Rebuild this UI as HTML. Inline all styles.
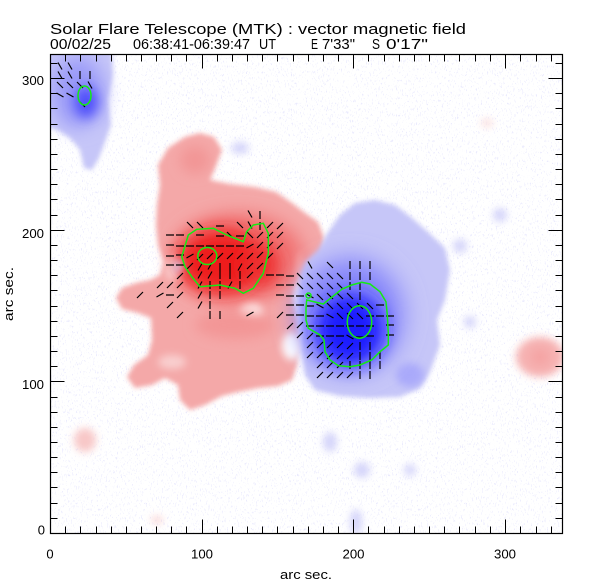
<!DOCTYPE html>
<html><head><meta charset="utf-8">
<style>
html,body{margin:0;padding:0;background:#fff;}
svg{display:block;}
text{font-family:"Liberation Sans",sans-serif;fill:#000;}
</style></head>
<body>
<svg width="612" height="585" viewBox="0 0 612 585" xmlns="http://www.w3.org/2000/svg">
<defs>
<clipPath id="pc"><rect x="51" y="55" width="511" height="478"/></clipPath>
<filter id="b2" x="-30%" y="-30%" width="160%" height="160%"><feGaussianBlur stdDeviation="2.5"/></filter>
<filter id="b4" x="-40%" y="-40%" width="180%" height="180%"><feGaussianBlur stdDeviation="4"/></filter>
<filter id="b6" x="-50%" y="-50%" width="200%" height="200%"><feGaussianBlur stdDeviation="6"/></filter>
<filter id="b9" x="-60%" y="-60%" width="220%" height="220%"><feGaussianBlur stdDeviation="9"/></filter>
<filter id="b12" x="-60%" y="-60%" width="220%" height="220%"><feGaussianBlur stdDeviation="12"/></filter>
<filter id="spk" x="50" y="54" width="512" height="480" filterUnits="userSpaceOnUse">
<feTurbulence type="fractalNoise" baseFrequency="0.8 0.35" numOctaves="2" seed="7" result="n"/>
<feColorMatrix in="n" type="matrix" values="0 0 0 0 0.78  0 0 0 0 0.78  0 0 0 0 0.98  10 0 0 0 -6.2"/>
</filter>
</defs>

<!-- Title -->
<text x="50" y="34" font-size="14.5" textLength="416" lengthAdjust="spacingAndGlyphs">Solar Flare Telescope (MTK) : vector magnetic field</text>
<text x="50" y="49" font-size="14.5" textLength="61" lengthAdjust="spacingAndGlyphs">00/02/25</text>
<text x="133" y="49" font-size="14.5" textLength="117" lengthAdjust="spacingAndGlyphs">06:38:41-06:39:47</text>
<text x="259" y="49" font-size="14.5" textLength="17" lengthAdjust="spacingAndGlyphs">UT</text>
<text x="311" y="49" font-size="14.5" textLength="7" lengthAdjust="spacingAndGlyphs">E</text>
<text x="322" y="49" font-size="14.5" textLength="33" lengthAdjust="spacingAndGlyphs">7'33"</text>
<text x="372" y="49" font-size="14.5" textLength="8" lengthAdjust="spacingAndGlyphs">S</text>
<text x="386" y="49" font-size="14.5" textLength="42" lengthAdjust="spacingAndGlyphs">0'17"</text>

<g clip-path="url(#pc)">
<rect x="50" y="54" width="512" height="480" fill="#fff"/>
<rect x="50" y="54" width="512" height="480" filter="url(#spk)" opacity="0.75"/>

<!-- RED pale -->
<g filter="url(#b2)" fill="rgb(244,168,168)">
<path d="M160,185 L158,165 L168,148 L185,137 L200,133 L214,137 L222,150 L216,165 L210,180 L230,184 L255,187 L276,192 L292,203 L305,213 L318,222 L324,238 L323,258 L313,270 L300,276 L294,285 L293,300 L297,320 L299,345 L297,365 L292,380 L278,386 L258,388 L238,392 L222,396 L205,405 L190,410 L180,400 L178,385 L165,378 L152,385 L135,388 L127,377 L134,365 L148,355 L152,340 L151,318 L138,313 L122,309 L116,298 L122,288 L136,283 L150,280 L160,275 L164,262 L158,245 L156,225 L157,205 Z"/>
</g>
<g filter="url(#b4)">
<ellipse cx="540" cy="357" rx="24" ry="20" fill="rgb(246,180,180)"/>
<ellipse cx="85" cy="440" rx="11" ry="12" fill="rgb(248,200,200)"/>
<ellipse cx="157" cy="520" rx="6" ry="4" fill="rgb(250,215,215)"/>
<ellipse cx="487" cy="123" rx="6" ry="4" fill="rgb(250,222,222)"/>
</g>
<!-- white carves -->
<g filter="url(#b4)" fill="#fff">
<ellipse cx="175" cy="268" rx="9" ry="13"/>
<ellipse cx="251" cy="312" rx="11" ry="11"/>
<ellipse cx="292" cy="346" rx="10" ry="14"/>
<ellipse cx="297" cy="265" rx="4" ry="13"/>
<ellipse cx="172" cy="362" rx="14" ry="7" opacity="0.45"/>
</g>
<!-- RED medium / core -->
<ellipse cx="195" cy="160" rx="15" ry="14" fill="rgb(242,150,150)" filter="url(#b6)"/>
<ellipse cx="235" cy="325" rx="40" ry="14" fill="rgb(243,150,150)" filter="url(#b6)"/>
<ellipse cx="540" cy="357" rx="10" ry="9" fill="rgb(244,160,160)" filter="url(#b6)"/>
<ellipse cx="238" cy="257" rx="66" ry="44" fill="rgb(241,115,115)" filter="url(#b9)"/>
<ellipse cx="222" cy="262" rx="44" ry="32" fill="rgb(238,30,30)" filter="url(#b9)"/>
<ellipse cx="262" cy="265" rx="16" ry="20" fill="rgb(238,45,45)" filter="url(#b9)"/>

<!-- BLUE pale -->
<g filter="url(#b2)" fill="rgb(198,198,248)">
<path d="M328,232 L340,215 L355,203 L375,200 L395,205 L412,218 L428,232 L445,248 L450,270 L445,300 L437,320 L440,345 L430,372 L420,388 L400,397 L370,398 L340,396 L315,390 L305,375 L302,350 L302,330 L300,300 L300,275 L305,262 L318,250 Z"/>
<path d="M45,50 L112,50 L113,75 L108,100 L111,125 L105,142 L99,158 L92,170 L84,168 L80,150 L70,138 L58,130 L45,126 Z"/>
</g>
<g filter="url(#b4)" fill="rgb(212,212,250)">
<ellipse cx="240" cy="148" rx="9" ry="6"/>
<ellipse cx="460" cy="246" rx="7" ry="7"/>
<ellipse cx="500" cy="215" rx="7" ry="7"/>
<ellipse cx="470" cy="322" rx="6" ry="6"/>
<ellipse cx="330" cy="442" rx="7" ry="10"/>
<ellipse cx="362" cy="470" rx="8" ry="8"/>
<ellipse cx="356" cy="522" rx="6" ry="13"/>
<ellipse cx="410" cy="470" rx="6" ry="6"/>
<ellipse cx="178" cy="266" rx="4" ry="6"/>
</g>
<ellipse cx="410" cy="375" rx="14" ry="12" fill="rgb(170,170,250)" filter="url(#b4)"/>
<ellipse cx="350" cy="315" rx="54" ry="57" fill="rgb(135,135,250)" filter="url(#b12)"/>
<ellipse cx="350" cy="330" rx="34" ry="36" fill="rgb(30,30,255)" filter="url(#b9)"/>
<ellipse cx="78" cy="92" rx="26" ry="36" fill="rgb(155,155,248)" filter="url(#b9)"/>
<ellipse cx="86" cy="102" rx="12" ry="16" fill="rgb(80,80,250)" filter="url(#b6)"/>

<!-- vectors -->
<path fill="none" stroke="#000" stroke-width="1.2" d="
M60 66m-2-3.5l4 7 M70 66m-2-3.5l4 7 M60 75m-2-3.5l4 7 M70 75m-2-3.5l4 7 M80 75m0-4v8 M90 75m0-4v8 M60 85m-3-3l6 6 M70 85m-3-3l6 6 M80 85m-3-3l6 6 M90 85m-2-3.5l4 7 M60 95m-3.5-2l7 4 M70 95m-3.5-2l7 4 M82 104m-3-3l6 6
M250 214m-2-3.5l4 7 M260 215m0-4v8
M190 225m-3-3l6 6 M200 225m-3-3l6 6 M220 226m-4 0h8 M240 225m-3-3l6 6 M250 225m-2-3.5l4 7 M260 226m0-4v8 M270 225m-3 3l6-6 M280 226m-3 3l6-6
M170 235m-4 0h8 M180 235m-4 0h8 M200 235m-4 0h8 M220 236m-4 0h8 M230 235m-3-3l6 6 M240 236m-4 0h8 M250 235m-3-3l6 6 M260 235m-3 3l6-6 M270 235m-3 3l6-6 M280 235m-3 3l6-6
M170 245m-4 0h8 M180 246m-4 0h8 M190 246m-4 0h8 M200 246m-4 0h8 M210 246m-4 0h8 M220 246m-4 0h8 M230 246m-4 0h8 M240 246m-4 0h8 M250 246m-3.5 2l7-4 M260 245m-3 3l6-6 M270 245m-3 3l6-6 M280 246m-3 3l6-6
M170 256m-4 0h8 M180 255m-4 0h8 M190 256m-3.5 2l7-4 M200 257m-3 3l6-6 M210 256m-3 3l6-6 M220 256m-3 3l6-6 M230 256m-3 3l6-6 M240 256m-3 3l6-6 M250 256m-3 3l6-6 M260 255m-3 3l6-6 M270 256m-3 3l6-6
M170 265m-4 0h8 M180 265m-4 0h8 M190 266m-3 3l6-6 M200 267m-2 3.5l4-7 M210 266m-2 3.5l4-7 M220 267m0-4v8 M230 267m0-4v8 M240 267m-2 3.5l4-7 M250 266m-3 3l6-6 M260 266m-3 3l6-6
M180 276m-3 3l6-6 M200 275m-2 3.5l4-7 M210 275m-2 3.5l4-7 M220 275m0-4v8 M230 275m0-4v8 M240 275m0-4v8 M250 275m-3 3l6-6 M270 275m-4 0h8
M160 285m-3 3l6-6 M170 285m-3 3l6-6 M180 285m-3 3l6-6 M200 285m-2 3.5l4-7 M210 285m0-4v8 M220 285m0-4v8 M230 285m-2 3.5l4-7 M240 285m0-4v8
M140 295m-3 3l6-6 M160 295m-3.5 2l7-4 M170 295m-4 0h8 M180 295m-3 3l6-6 M200 295m-2 3.5l4-7 M210 295m0-4v8 M220 295m0-4v8
M170 305m-3 3l6-6 M200 305m-2 3.5l4-7 M210 305m0-4v8
M180 315m-3 3l6-6 M210 315m0-4v8 M220 315m0-4v8 M250 314m-3.5 2l7-4
M310 265m-2-3.5l4 7 M330 265m-3-3l6 6 M350 265m0-4v8 M360 265m0-4v8 M370 265m0-4v8
M280 275m-4 0h8 M290 276m-4 0h8 M300 276m-3-3l6 6 M310 276m-3-3l6 6 M320 276m-3-3l6 6 M330 276m-3-3l6 6 M340 276m-3-3l6 6 M350 276m0-4v8 M360 276m0-4v8 M370 276m0-4v8
M280 285m-4 0h8 M290 285m-4 0h8 M300 286m-3-3l6 6 M310 286m-3-3l6 6 M320 286m-3-3l6 6 M330 286m-3-3l6 6 M340 286m-3-3l6 6 M350 286m0-4v8 M360 286m0-4v8
M280 295m-4 0h8 M290 296m-4 0h8 M300 296m-4 0h8 M310 296m-3.5-2l7 4 M320 297m-3-3l6 6 M330 296m-3-3l6 6 M340 296m-3-3l6 6 M350 296m-3-3l6 6 M360 296m0-4v8
M290 305m-4 0h8 M300 305m-4 0h8 M310 306m-4 0h8 M320 306m-3.5-2l7 4 M330 306m-3-3l6 6 M340 306m-3-3l6 6 M350 306m-3-3l6 6 M360 306m-3-3l6 6 M370 306m-3-3l6 6 M380 305m-4 0h8
M280 315m-3 3l6-6 M290 315m-4 0h8 M300 315m-4 0h8 M310 316m-4 0h8 M320 316m-4 0h8 M330 316m-3.5-2l7 4 M340 316m-3-3l6 6 M350 316m-3-3l6 6 M360 316m-3-3l6 6 M370 316m-4 0h8 M380 316m-4 0h8 M390 316m-4 0h8
M290 326m-3 3l6-6 M300 325m-3 3l6-6 M310 326m-4 0h8 M320 326m-4 0h8 M330 326m-4 0h8 M340 326m-4 0h8 M350 326m-4 0h8 M360 326m-4 0h8 M370 326m-4 0h8 M390 325m-4 0h8
M300 335m-3 3l6-6 M310 336m-3 3l6-6 M320 336m-4 0h8 M330 336m-4 0h8 M340 336m-4 0h8 M350 337m-3.5-2l7 4 M360 337m-4 0h8 M370 336m-4 0h8 M390 335m-4 0h8
M310 345m-3 3l6-6 M320 345m-3 3l6-6 M330 345m-3 3l6-6 M340 345m-3 3l6-6 M350 346m-3 3l6-6 M360 346m0-4v8 M370 346m0-4v8
M310 355m-3 3l6-6 M320 355m-3 3l6-6 M330 356m-3 3l6-6 M340 356m-3 3l6-6 M350 356m-3 3l6-6 M360 356m0-4v8 M370 356m0-4v8 M380 355m0-4v8
M320 365m-3 3l6-6 M330 365m-3 3l6-6 M340 365m-3 3l6-6 M350 365m0-4v8 M360 365m0-4v8 M370 365m0-4v8 M380 365m0-4v8
M320 375m-3 3l6-6 M330 375m-3 3l6-6 M340 375m-3 3l6-6 M350 375m-3 3l6-6 M360 375m0-4v8 M370 375m0-4v8
"/>

<!-- green contours -->
<g fill="none" stroke="rgb(20,235,20)" stroke-width="1.5">
<ellipse cx="84.5" cy="95.5" rx="6.5" ry="9.5"/>
<path d="M181.7,256.7 L188.3,235 L196.7,229.3 L213.3,228.3 L226.7,235 L243.3,241.7 L246.7,231.7 L253.3,225 L263.3,223.3 L268.3,233.3 L268.3,253.3 L263.3,273.3 L253.3,288.3 L243.3,293.3 L235,288.3 L220,285 L200,286.7 L191.7,276.7 L185,266.7 Z"/>
<ellipse cx="207.3" cy="256" rx="9.5" ry="8.5"/>
<path d="M306.7,300 L323.3,304 L341.7,289.3 L351.7,285 L361.7,282.3 L370,284 L380,291.7 L386,301.7 L387.3,315 L388.3,333.3 L388.3,345 L380,351.7 L371.7,360 L360,365 L350,366.7 L338.3,365.7 L330,360 L325,351.7 L324,340 L320,335 L308.3,328.3 L306,320 L306,308.3 Z"/>
<ellipse cx="359.5" cy="322" rx="12.2" ry="16.2"/>
<circle cx="308.5" cy="295.5" r="2.5"/>
</g>
</g>

<!-- axes box -->
<rect x="50.5" y="54.5" width="512" height="479" fill="none" stroke="#000" stroke-width="1.2"/>
<!-- ticks -->
<path fill="none" stroke="#000" stroke-width="1" d="
M65.5 533.5v-7 M80.5 533.5v-7 M96.5 533.5v-7 M111.5 533.5v-7 M126.5 533.5v-7 M141.5 533.5v-7 M156.5 533.5v-7 M171.5 533.5v-7 M186.5 533.5v-7 M202.5 533.5v-14 M217.5 533.5v-7 M232.5 533.5v-7 M247.5 533.5v-7 M262.5 533.5v-7 M277.5 533.5v-7 M293.5 533.5v-7 M308.5 533.5v-7 M323.5 533.5v-7 M338.5 533.5v-7 M353.5 533.5v-14 M368.5 533.5v-7 M384.5 533.5v-7 M399.5 533.5v-7 M414.5 533.5v-7 M429.5 533.5v-7 M444.5 533.5v-7 M459.5 533.5v-7 M475.5 533.5v-7 M490.5 533.5v-7 M505.5 533.5v-14 M520.5 533.5v-7 M536.5 533.5v-7 M551.5 533.5v-7
M65.5 54.5v7 M80.5 54.5v7 M96.5 54.5v7 M111.5 54.5v7 M126.5 54.5v7 M141.5 54.5v7 M156.5 54.5v7 M171.5 54.5v7 M186.5 54.5v7 M202.5 54.5v14 M217.5 54.5v7 M232.5 54.5v7 M247.5 54.5v7 M262.5 54.5v7 M277.5 54.5v7 M293.5 54.5v7 M308.5 54.5v7 M323.5 54.5v7 M338.5 54.5v7 M353.5 54.5v14 M368.5 54.5v7 M384.5 54.5v7 M399.5 54.5v7 M414.5 54.5v7 M429.5 54.5v7 M444.5 54.5v7 M459.5 54.5v7 M475.5 54.5v7 M490.5 54.5v7 M505.5 54.5v14 M520.5 54.5v7 M536.5 54.5v7 M551.5 54.5v7
M50.5 518.5h7 M50.5 503.5h7 M50.5 487.5h7 M50.5 472.5h7 M50.5 457.5h7 M50.5 442.5h7 M50.5 427.5h7 M50.5 412.5h7 M50.5 397.5h7 M50.5 381.5h14 M50.5 366.5h7 M50.5 351.5h7 M50.5 336.5h7 M50.5 321.5h7 M50.5 306.5h7 M50.5 290.5h7 M50.5 275.5h7 M50.5 260.5h7 M50.5 245.5h7 M50.5 230.5h14 M50.5 215.5h7 M50.5 199.5h7 M50.5 184.5h7 M50.5 169.5h7 M50.5 154.5h7 M50.5 139.5h7 M50.5 124.5h7 M50.5 108.5h7 M50.5 93.5h7 M50.5 78.5h14 M50.5 63.5h7
M562.5 518.5h-7 M562.5 503.5h-7 M562.5 487.5h-7 M562.5 472.5h-7 M562.5 457.5h-7 M562.5 442.5h-7 M562.5 427.5h-7 M562.5 412.5h-7 M562.5 397.5h-7 M562.5 381.5h-14 M562.5 366.5h-7 M562.5 351.5h-7 M562.5 336.5h-7 M562.5 321.5h-7 M562.5 306.5h-7 M562.5 290.5h-7 M562.5 275.5h-7 M562.5 260.5h-7 M562.5 245.5h-7 M562.5 230.5h-14 M562.5 215.5h-7 M562.5 199.5h-7 M562.5 184.5h-7 M562.5 169.5h-7 M562.5 154.5h-7 M562.5 139.5h-7 M562.5 124.5h-7 M562.5 108.5h-7 M562.5 93.5h-7 M562.5 78.5h-14 M562.5 63.5h-7
"/>

<!-- tick labels -->
<g font-size="13">
<text x="50" y="558.5" text-anchor="middle">0</text>
<text x="202" y="558.5" text-anchor="middle" textLength="22" lengthAdjust="spacingAndGlyphs">100</text>
<text x="353.5" y="558.5" text-anchor="middle" textLength="22" lengthAdjust="spacingAndGlyphs">200</text>
<text x="505" y="558.5" text-anchor="middle" textLength="22" lengthAdjust="spacingAndGlyphs">300</text>
<text x="45" y="534.5" text-anchor="end">0</text>
<text x="44" y="389" text-anchor="end" textLength="22" lengthAdjust="spacingAndGlyphs">100</text>
<text x="44" y="238" text-anchor="end" textLength="22" lengthAdjust="spacingAndGlyphs">200</text>
<text x="44" y="85" text-anchor="end" textLength="22" lengthAdjust="spacingAndGlyphs">300</text>
</g>
<text x="306" y="579" font-size="13" text-anchor="middle" textLength="52" lengthAdjust="spacingAndGlyphs">arc sec.</text>
<text transform="translate(13,294) rotate(-90)" font-size="13" text-anchor="middle" textLength="54" lengthAdjust="spacingAndGlyphs">arc sec.</text>
</svg>
</body></html>
